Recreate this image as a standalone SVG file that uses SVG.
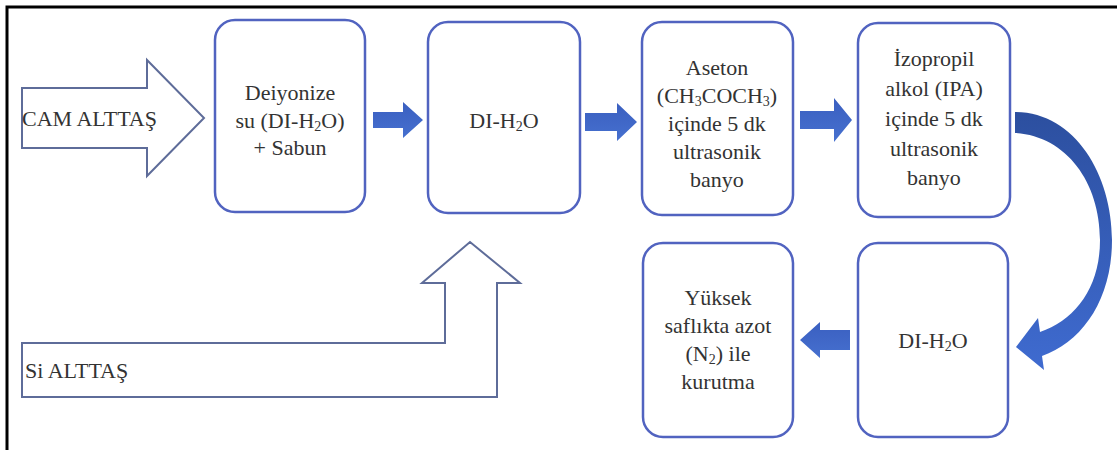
<svg xmlns="http://www.w3.org/2000/svg" width="1117" height="450" viewBox="0 0 1117 450">
  <defs>
    <linearGradient id="blueFill" x1="0" y1="0" x2="0" y2="1">
      <stop offset="0" stop-color="#3a5fc0"/>
      <stop offset="1" stop-color="#4670cf"/>
    </linearGradient>
    <linearGradient id="curveFill" x1="0" y1="0" x2="0" y2="1">
      <stop offset="0" stop-color="#2c4f9f"/>
      <stop offset="1" stop-color="#3f6bd0"/>
    </linearGradient>
    <style>
      .box { fill: #ffffff; stroke: #5163c0; stroke-width: 2.5; }
      .outline { fill: #ffffff; stroke: #5e6c99; stroke-width: 2; stroke-linejoin: miter; }
      .solid { fill: url(#blueFill); }
      .curve { fill: url(#curveFill); }
      .mid { text-anchor: middle; }
      .sub { font-size: 14px; }
      .frame { stroke: #000000; stroke-width: 3; fill: none; }
    </style>
  </defs>

  <rect x="0" y="0" width="1117" height="450" fill="#ffffff"/>

  <!-- page frame: top and left rules -->
  <path class="frame" d="M7,450 L7,7 L1117,7"/>

  <!-- input arrows and flow arrows -->
  <g id="connectors">
    <!-- CAM ALTTAS block arrow -->
    <path class="outline" d="M22,88 L147,88 L147,60 L204,118 L147,176 L147,148 L22,148 Z"/>
    <!-- Si ALTTAS bent arrow -->
    <path class="outline" d="M22,343 L445,343 L445,283 L422,283 L470,242 L520,283 L497,283 L497,397 L22,397 Z"/>
    <!-- solid step arrows -->
    <path class="solid" d="M373,112 L403,112 L403,102 L423,120 L403,138 L403,128 L373,128 Z"/>
    <path class="solid" d="M585,113 L617,113 L617,103 L637,122 L617,141 L617,131 L585,131 Z"/>
    <path class="solid" d="M800,111 L834,111 L834,98 L852,120 L834,142 L834,129 L800,129 Z"/>
    <path class="solid" d="M850,330 L820,330 L820,322 L800,340 L820,358 L820,350 L850,350 Z"/>
    <!-- curved arrow down to the lower row -->
    <path class="curve" d="M1015,112 C1075,112 1112,175 1112,240 C1112,300 1082,342 1042,356 L1044,370 L1016,347 L1038,318 L1040,332 C1075,320 1100,288 1100,240 C1100,182 1066,136 1015,133 Z"/>
  </g>

  <g font-family="Liberation Serif, Times New Roman, serif" font-size="22" fill="#333333">
    <g id="label-cam">
      <text x="22" y="126">CAM ALTTAŞ</text>
    </g>
    <g id="label-si">
      <text x="25" y="378">Si ALTTAŞ</text>
    </g>

    <g id="node-sabun">
      <rect class="box" x="215" y="20" width="150" height="192" rx="20"/>
      <text class="mid" x="290" y="100">Deiyonize</text>
      <text class="mid" x="290" y="128">su (DI-H<tspan class="sub" dy="3">2</tspan><tspan dy="-3">O)</tspan></text>
      <text class="mid" x="290" y="155">+ Sabun</text>
    </g>

    <g id="node-di1">
      <rect class="box" x="428" y="22" width="152" height="191" rx="20"/>
      <text class="mid" x="504" y="128">DI-H<tspan class="sub" dy="3">2</tspan><tspan dy="-3">O</tspan></text>
    </g>

    <g id="node-aseton">
      <rect class="box" x="642" y="22" width="151" height="193" rx="20"/>
      <text class="mid" x="717" y="75">Aseton</text>
      <text class="mid" x="717" y="103">(CH<tspan class="sub" dy="3">3</tspan><tspan dy="-3">COCH</tspan><tspan class="sub" dy="3">3</tspan><tspan dy="-3">)</tspan></text>
      <text class="mid" x="717" y="131">içinde 5 dk</text>
      <text class="mid" x="717" y="159">ultrasonik</text>
      <text class="mid" x="717" y="187">banyo</text>
    </g>

    <g id="node-ipa">
      <rect class="box" x="858" y="23" width="152" height="194" rx="20"/>
      <text class="mid" x="934" y="66">İzopropil</text>
      <text class="mid" x="934" y="96">alkol (IPA)</text>
      <text class="mid" x="934" y="126">içinde 5 dk</text>
      <text class="mid" x="934" y="156">ultrasonik</text>
      <text class="mid" x="934" y="185">banyo</text>
    </g>

    <g id="node-azot">
      <rect class="box" x="643" y="243" width="150" height="194" rx="20"/>
      <text class="mid" x="718" y="305">Yüksek</text>
      <text class="mid" x="718" y="333">saflıkta azot</text>
      <text class="mid" x="718" y="361">(N<tspan class="sub" dy="3">2</tspan><tspan dy="-3">) ile</tspan></text>
      <text class="mid" x="718" y="389">kurutma</text>
    </g>

    <g id="node-di2">
      <rect class="box" x="858" y="243" width="150" height="194" rx="20"/>
      <text class="mid" x="933" y="348">DI-H<tspan class="sub" dy="3">2</tspan><tspan dy="-3">O</tspan></text>
    </g>
  </g>
</svg>
